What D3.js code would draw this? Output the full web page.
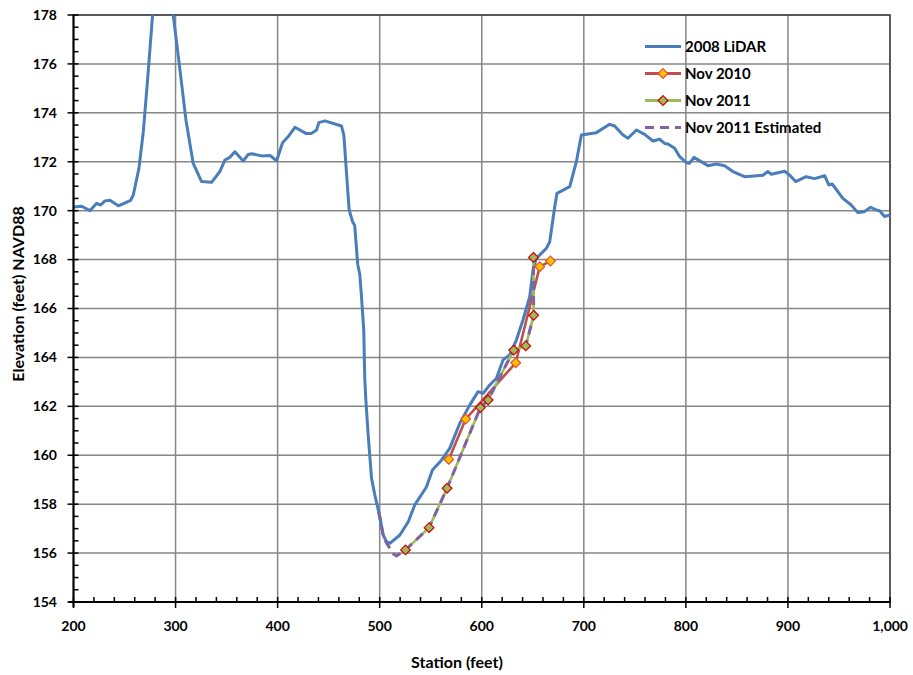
<!DOCTYPE html>
<html>
<head>
<meta charset="utf-8">
<script src="https://cdn.jsdelivr.net/npm/d3@7"></script>
<style>
  html, body { margin: 0; padding: 0; background: #fff; }
  svg { display: block; font-family: Lato, "Open Sans", "DejaVu Sans", sans-serif; font-weight: bold; }
</style>
</head>
<body>
<svg id="chart" width="913" height="675"></svg>
<script>
// Cross-section survey: station (ft) vs elevation (ft NAVD88)
const lidarStation = [200, 208, 216, 222.7, 226.6, 230.8, 235.7, 243.9, 256, 258.6, 264.1, 268.4, 272.3, 277.5, 283, 289, 294, 297.7, 303.6, 310.2, 317.3, 325.5, 335.3, 343.4, 348.3, 353.2, 358.1, 366.3, 371.2, 374.5, 384.3, 392.4, 399, 404.8, 410.4, 416.9, 427.7, 433.2, 438.1, 440.4, 446.3, 462.6, 464.9, 467.5, 470.1, 473.4, 475.5, 478.5, 480.5, 482.4, 484.4, 485.4, 486.4, 488.6, 492, 495.2, 500.1, 503.4, 506.7, 510, 519.8, 528, 534.4, 545.8, 551.7, 560.5, 568.6, 578.4, 588.2, 596.4, 601.3, 607.8, 614.4, 620.9, 627.4, 633.9, 640.4, 647, 650.2, 653.5, 663.3, 666.6, 671.5, 673.7, 686.2, 692.7, 697.6, 712.3, 725.3, 730.2, 738.4, 743.3, 751.5, 759.6, 767.7, 774.3, 779.2, 782.4, 789, 793.9, 800.4, 803.7, 807.9, 821.6, 829.8, 837.9, 846.1, 857.5, 875.5, 880.3, 883.7, 896.7, 901.6, 907.5, 917.9, 926.1, 935.9, 940.1, 943.4, 953.8, 962, 968.5, 975, 980.9, 986.5, 989.8, 994.7, 1000.2];
const lidarElev = [170.15, 170.18, 170.0, 170.3, 170.23, 170.4, 170.43, 170.2, 170.42, 170.64, 171.73, 173.23, 175.2, 178.0, 180.4, 181.0, 180.0, 178.0, 176.0, 173.7, 171.93, 171.19, 171.16, 171.6, 172.07, 172.18, 172.41, 172.03, 172.3, 172.33, 172.24, 172.26, 172.04, 172.78, 173.03, 173.41, 173.16, 173.16, 173.3, 173.6, 173.67, 173.46, 173.09, 171.53, 170.03, 169.55, 169.4, 167.8, 167.4, 166.35, 165.1, 163.1, 162.3, 160.9, 159.06, 158.38, 157.49, 156.74, 156.47, 156.4, 156.74, 157.28, 157.97, 158.7, 159.4, 159.8, 160.28, 161.3, 162.05, 162.6, 162.53, 162.87, 163.15, 163.9, 164.1, 164.71, 165.53, 166.48, 167.57, 168.05, 168.46, 168.73, 170.16, 170.71, 170.98, 172.0, 173.09, 173.19, 173.53, 173.46, 173.09, 172.96, 173.3, 173.12, 172.85, 172.92, 172.75, 172.73, 172.55, 172.21, 171.96, 171.94, 172.18, 171.84, 171.91, 171.84, 171.6, 171.39, 171.45, 171.6, 171.49, 171.61, 171.46, 171.19, 171.39, 171.31, 171.43, 171.05, 171.09, 170.5, 170.23, 169.92, 169.96, 170.14, 170.03, 170.0, 169.76, 169.83];

const nov2010Station = [567.7, 584.3, 633.3, 656.8, 667.3];
const nov2010Elev = [159.83, 161.48, 163.78, 167.71, 167.94];

const nov2011Station = [525.3, 548.4, 566, 598.7, 606.2, 631.3, 643.1, 650.9, 650.6];
const nov2011Elev = [156.13, 157.04, 158.65, 161.95, 162.26, 164.3, 164.47, 165.72, 168.09];

const estStation = [499, 504, 513, 516.5, 525.3, 548.4, 566, 598.7, 606.2, 631.3, 643.1, 650.9, 650.6];
const estElev = [157.7, 156.6, 155.98, 155.88, 156.13, 157.04, 158.65, 161.95, 162.26, 164.3, 164.47, 165.72, 168.09];

const xTicks = [200, 300, 400, 500, 600, 700, 800, 900, 1000];
const yTicks = [154, 156, 158, 160, 162, 164, 166, 168, 170, 172, 174, 176, 178];

const seriesNames = ["2008 LiDAR", "Nov 2010", "Nov 2011", "Nov 2011 Estimated"];

const zip = (a, b) => a.map((v, i) => [v, b[i]]);

const svg = d3.select("#chart");
const pLeft = 73.5, pRight = 890, pTop = 15, pBottom = 602;

const x = d3.scaleLinear().domain([200, 1000]).range([pLeft, pRight]);
const y = d3.scaleLinear().domain([154, 178]).range([pBottom, pTop]);

svg.append("defs").append("clipPath").attr("id", "plotClip")
  .append("rect").attr("x", pLeft).attr("y", pTop).attr("width", pRight - pLeft).attr("height", pBottom - pTop);

// Gridlines
const grid = svg.append("g");
grid.selectAll("line.h").data(yTicks.slice(1)).join("line")
  .attr("x1", pLeft).attr("x2", pRight)
  .attr("y1", d => y(d)).attr("y2", d => y(d))
  .attr("stroke", "#868686").attr("stroke-width", 1.5);
grid.selectAll("line.v").data(xTicks.slice(1)).join("line")
  .attr("y1", pTop).attr("y2", pBottom)
  .attr("x1", d => x(d)).attr("x2", d => x(d))
  .attr("stroke", "#868686").attr("stroke-width", 1.5);

// Plot frame
svg.append("rect").attr("x", pLeft).attr("y", pTop).attr("width", pRight - pLeft).attr("height", pBottom - pTop)
  .attr("fill", "none").attr("stroke", "#404040").attr("stroke-width", 1.5);

const line = d3.line().x(d => x(d[0])).y(d => y(d[1]));
const plot = svg.append("g").attr("clip-path", "url(#plotClip)");

plot.append("path").datum(zip(lidarStation, lidarElev))
  .attr("d", line).attr("fill", "none").attr("stroke", "#4A7EBB").attr("stroke-width", 3)
  .attr("stroke-linejoin", "round");

plot.append("path").datum(zip(nov2010Station, nov2010Elev))
  .attr("d", line).attr("fill", "none").attr("stroke", "#C0504D").attr("stroke-width", 2.6)
  .attr("stroke-linejoin", "round");

plot.append("path").datum(zip(nov2011Station, nov2011Elev))
  .attr("d", line).attr("fill", "none").attr("stroke", "#9BBB59").attr("stroke-width", 2.6)
  .attr("stroke-linejoin", "round");

plot.append("path").datum(zip(estStation, estElev))
  .attr("d", line).attr("fill", "none").attr("stroke", "#8064A2").attr("stroke-width", 3)
  .attr("stroke-dasharray", "9,6");

const diamond = d3.symbol().type(d3.symbolDiamond2).size(60);
function markers(stations, elevs, fill, stroke) {
  plot.append("g").selectAll("path").data(zip(stations, elevs)).join("path")
    .attr("d", diamond)
    .attr("transform", d => `translate(${x(d[0])},${y(d[1])})`)
    .attr("fill", fill).attr("stroke", stroke).attr("stroke-width", 1.2);
}
markers(nov2010Station, nov2010Elev, "#FFC000", "#E8502E");
markers(nov2011Station, nov2011Elev, "#9BBB59", "#D00000");

// Axes
const yMinor = d3.range(154, 178.01, 0.5).filter(v => v % 2 !== 0);
const xMinor = d3.range(200, 1000.1, 20).filter(v => v % 100 !== 0);

const axisG = svg.append("g");
axisG.append("line").attr("x1", pLeft).attr("x2", pLeft).attr("y1", pTop).attr("y2", pBottom + 5)
  .attr("stroke", "#000").attr("stroke-width", 2);
axisG.append("line").attr("x1", pLeft - 5).attr("x2", pRight + 1).attr("y1", pBottom).attr("y2", pBottom)
  .attr("stroke", "#000").attr("stroke-width", 2);

axisG.selectAll("line.ym").data(yTicks).join("line")
  .attr("x1", pLeft - 6).attr("x2", pLeft + 5).attr("y1", d => y(d)).attr("y2", d => y(d))
  .attr("stroke", "#000").attr("stroke-width", 1.5);
axisG.selectAll("line.yn").data(yMinor).join("line")
  .attr("x1", pLeft).attr("x2", pLeft + 5).attr("y1", d => y(d)).attr("y2", d => y(d))
  .attr("stroke", "#000").attr("stroke-width", 1.5);
axisG.selectAll("line.xm").data(xTicks).join("line")
  .attr("y1", pBottom - 5).attr("y2", pBottom + 6).attr("x1", d => x(d)).attr("x2", d => x(d))
  .attr("stroke", "#000").attr("stroke-width", 1.5);
axisG.selectAll("line.xn").data(xMinor).join("line")
  .attr("y1", pBottom - 5).attr("y2", pBottom).attr("x1", d => x(d)).attr("x2", d => x(d))
  .attr("stroke", "#000").attr("stroke-width", 1.5);

const fmt = d3.format(",");
axisG.selectAll("text.yl").data(yTicks).join("text")
  .attr("x", 57).attr("y", d => y(d)).attr("dy", "0.35em")
  .attr("text-anchor", "end").attr("font-size", 14).attr("fill", "#000")
  .text(d => d);
axisG.selectAll("text.xl").data(xTicks).join("text")
  .attr("x", d => d === 1000 ? 908 : x(d)).attr("y", 631)
  .attr("text-anchor", d => d === 1000 ? "end" : "middle").attr("font-size", 14).attr("fill", "#000")
  .text(d => fmt(d));

svg.append("text").attr("x", 457).attr("y", 668).attr("text-anchor", "middle")
  .attr("font-size", 16).attr("fill", "#000").text("Station (feet)");
svg.append("text").attr("transform", "translate(24,294) rotate(-90)").attr("text-anchor", "middle")
  .attr("font-size", 16).attr("fill", "#000").text("Elevation (feet) NAVD88");

// Legend
const legend = svg.append("g");
const legRows = [46.5, 73.5, 100.5, 127.5];
const legStyles = [
  { stroke: "#4A7EBB", dash: null, marker: null },
  { stroke: "#C0504D", dash: null, marker: ["#FFC000", "#E8502E"] },
  { stroke: "#9BBB59", dash: null, marker: ["#9BBB59", "#D00000"] },
  { stroke: "#8064A2", dash: "9,6", marker: null }
];
seriesNames.forEach((name, i) => {
  const yy = legRows[i], st = legStyles[i];
  legend.append("line").attr("x1", 645).attr("x2", 681).attr("y1", yy).attr("y2", yy)
    .attr("stroke", st.stroke).attr("stroke-width", 3).attr("stroke-dasharray", st.dash);
  if (st.marker) {
    legend.append("path").attr("d", diamond).attr("transform", `translate(663,${yy})`)
      .attr("fill", st.marker[0]).attr("stroke", st.marker[1]).attr("stroke-width", 1.2);
  }
  legend.append("text").attr("x", 685).attr("y", yy).attr("dy", "0.35em")
    .attr("font-size", 15).attr("fill", "#000").text(name);
});
</script>
</body>
</html>
